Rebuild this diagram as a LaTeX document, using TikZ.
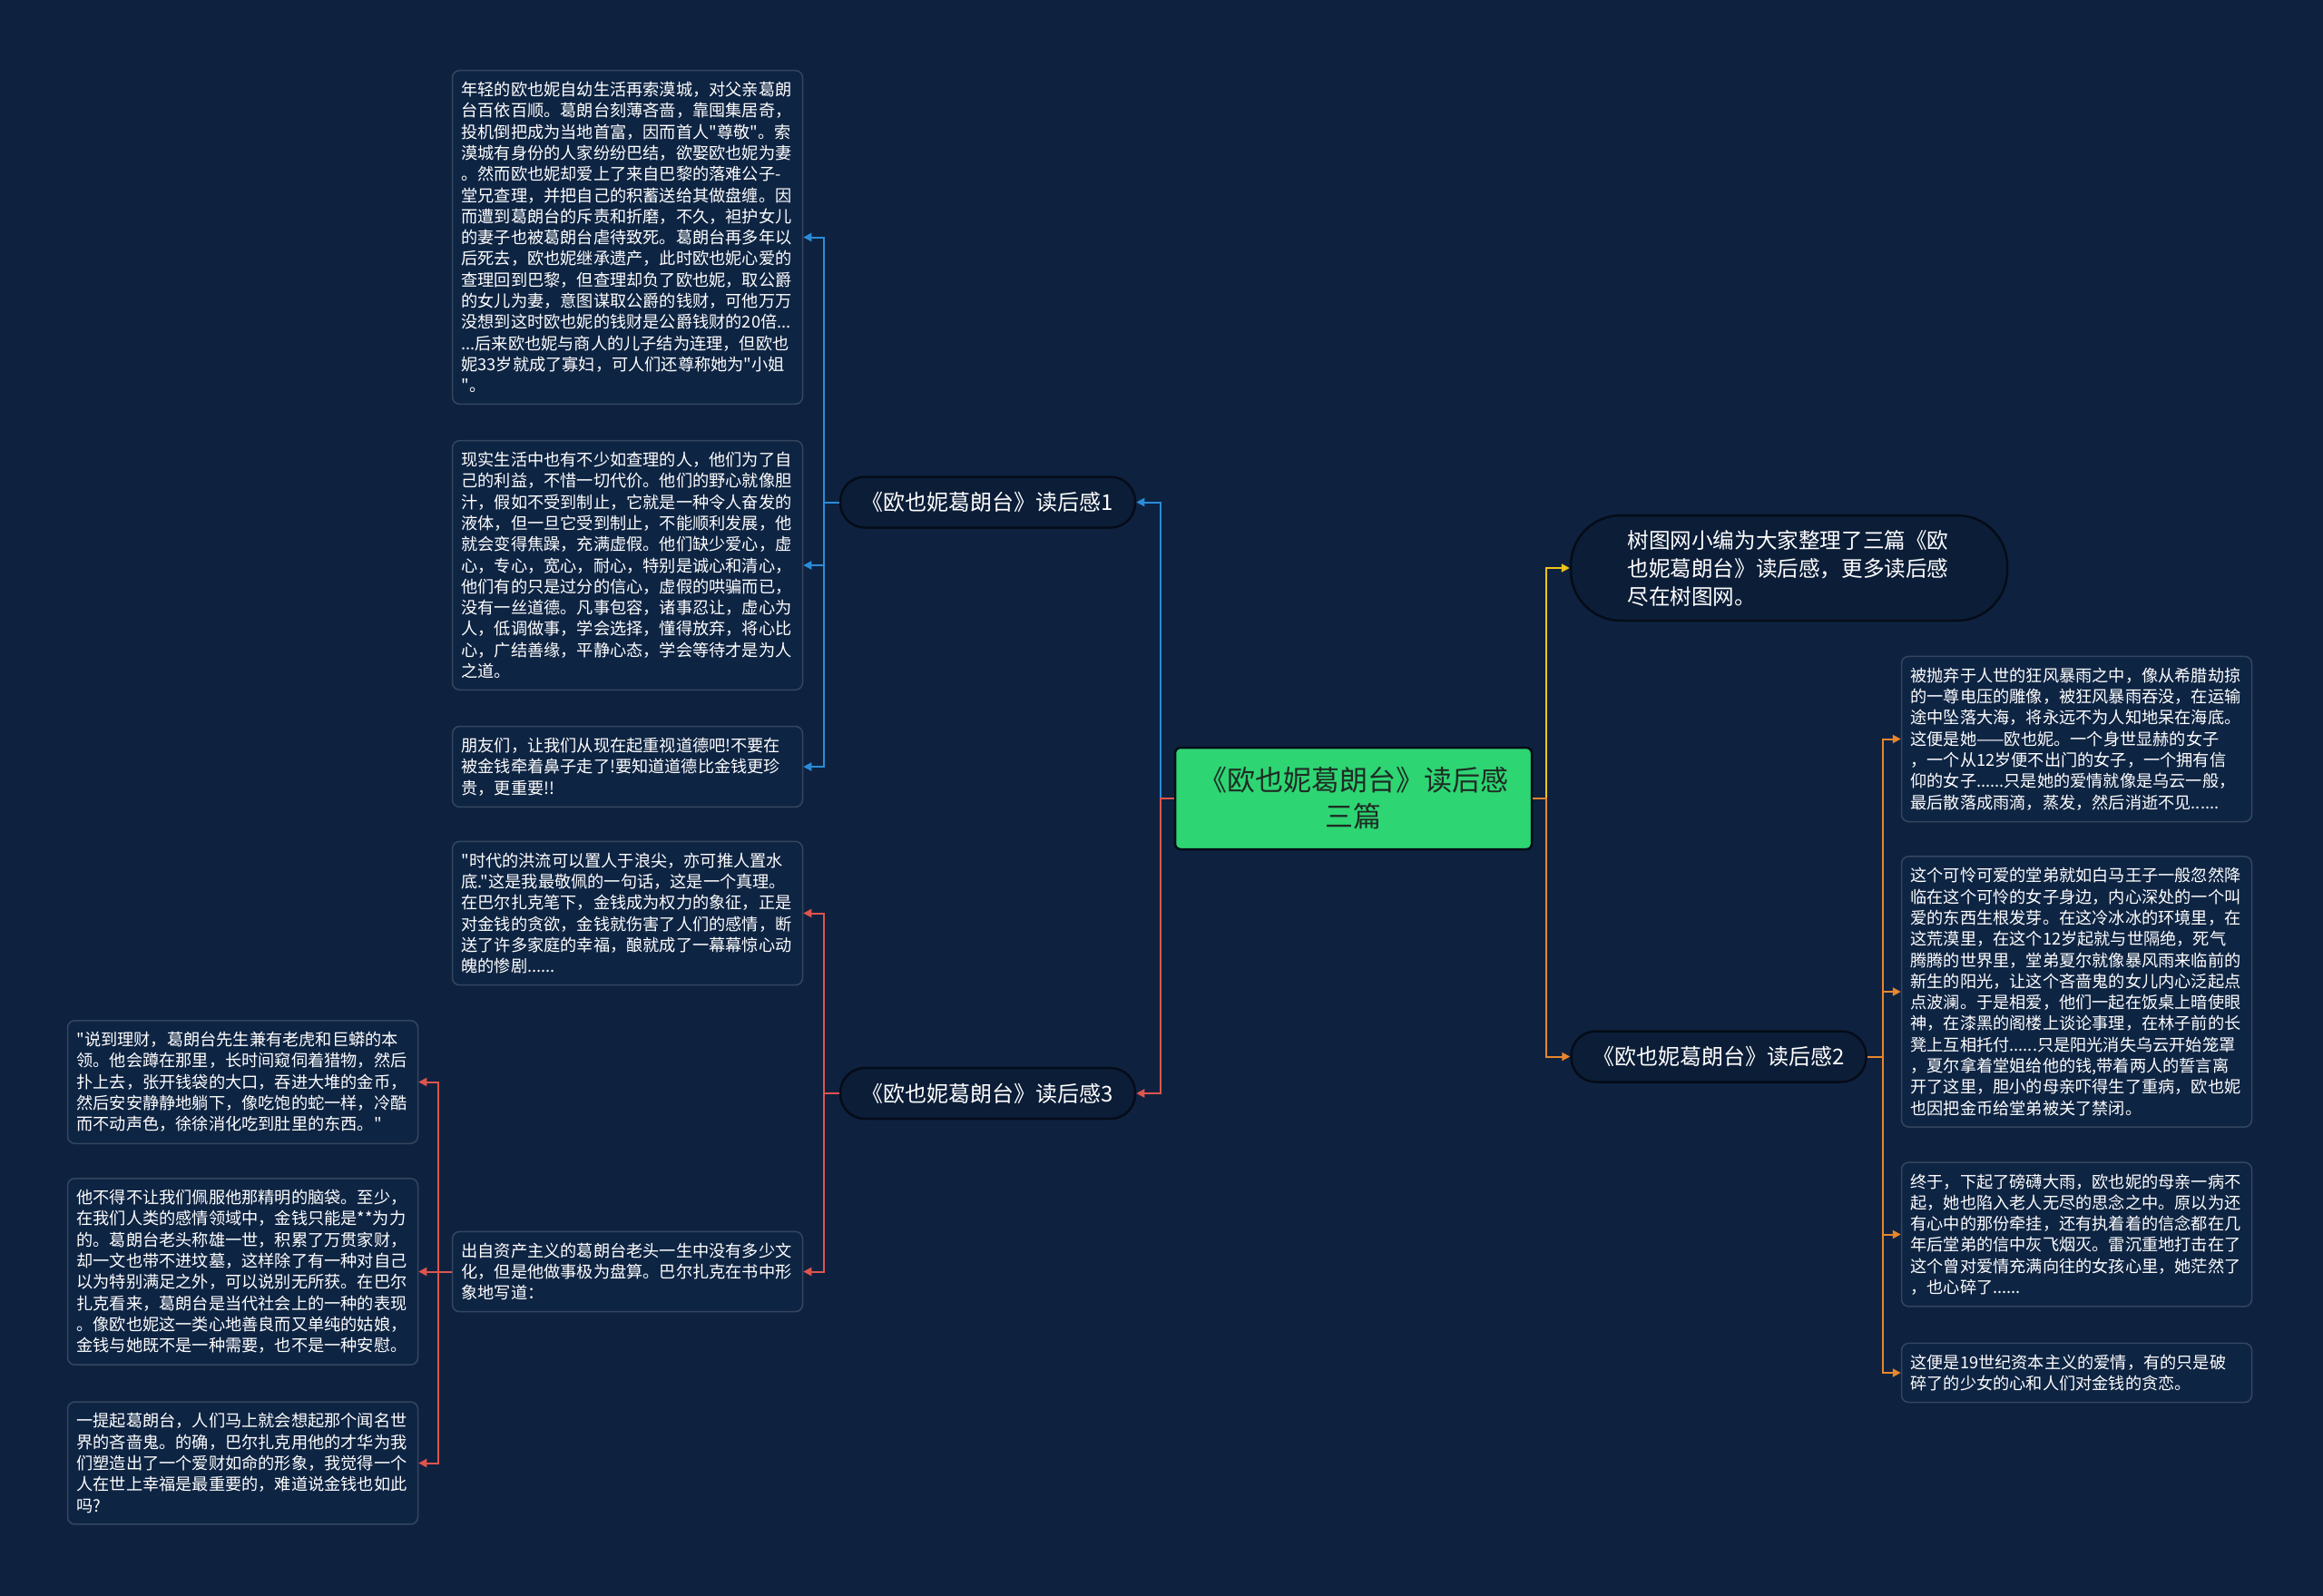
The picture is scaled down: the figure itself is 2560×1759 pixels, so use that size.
\documentclass[tikz,border=0pt]{standalone}
\usepackage{fontspec}
\newfontfamily\cjkfont{Noto Sans CJK SC}
\usetikzlibrary{arrows.meta}
\definecolor{bgc}{HTML}{0E2240}
\definecolor{leaffill}{HTML}{0E2443}
\definecolor{leafdraw}{HTML}{34465F}
\definecolor{pillfill}{HTML}{0B1D37}
\definecolor{pilldraw}{HTML}{050C18}
\definecolor{centerfill}{HTML}{2ED573}
\definecolor{centertext}{HTML}{1E2B24}
\definecolor{cblue}{HTML}{2A8CD8}
\definecolor{cred}{HTML}{E0544C}
\definecolor{cyellow}{HTML}{F0C419}
\definecolor{corange}{HTML}{E8862E}
\begin{document}
\begin{tikzpicture}[x=1pt,y=-1pt,
  leaf/.style={draw=leafdraw,fill=leaffill,line width=1.5pt,rounded corners=8pt,
    text=white,align=left,text width=366pt,inner xsep=10pt,inner ysep=12.5pt,
    font=\cjkfont\fontsize{18.2pt}{23.3pt}\selectfont},
  pill/.style={draw=pilldraw,fill=pillfill,line width=2.5pt,rounded corners=27pt,
    text=white,minimum width=325pt,minimum height=56pt,inner sep=0pt,
    font=\cjkfont\fontsize{24pt}{30pt}\selectfont},
  conn/.style={line width=2pt,-{Triangle[length=9pt,width=9pt]}},
  cb/.style={conn,draw=cblue,cblue},
  cr/.style={conn,draw=cred,cred},
  cy/.style={conn,draw=cyellow,cyellow},
  co/.style={conn,draw=corange,corange}]
\fill[bgc] (0,0) rectangle (2560,1759);
\useasboundingbox (0,0) rectangle (2560,1759);

% center
\node[draw=pilldraw,fill=centerfill,line width=2.5pt,rounded corners=6pt,
  minimum width=393pt,minimum height=112pt,align=center,text=centertext,
  font=\cjkfont\fontsize{31pt}{40pt}\selectfont] (c) at (1491.5,880)
  {《欧也妮葛朗台》读后感\\三篇};

% branches
\node[pill] (b1) at (1088.5,553.5) {《欧也妮葛朗台》读后感1};
\node[pill] (b3) at (1088.5,1205) {《欧也妮葛朗台》读后感3};
\node[pill] (b2) at (1894,1164.5) {《欧也妮葛朗台》读后感2};
\node[draw=pilldraw,fill=pillfill,line width=2.5pt,rounded corners=55pt,
  text=white,minimum width=481pt,minimum height=116pt,align=left,text width=356pt,
  inner xsep=62.5pt,font=\cjkfont\fontsize{23.6pt}{31pt}\selectfont] (intro) at (1971.5,626)
  {树图网小编为大家整理了三篇《欧\\也妮葛朗台》读后感，更多读后感\\尽在树图网。};

% left leaves of branch 1
\node[leaf] (L1) at (691.5,261.5) {年轻的欧也妮自幼生活再索漠城，对父亲葛朗\\
台百依百顺。葛朗台刻薄吝啬，靠囤集居奇，\\
投机倒把成为当地首富，因而首人"尊敬"。索\\
漠城有身份的人家纷纷巴结，欲娶欧也妮为妻\\
。然而欧也妮却爱上了来自巴黎的落难公子-\\
堂兄查理，并把自己的积蓄送给其做盘缠。因\\
而遭到葛朗台的斥责和折磨，不久，袒护女儿\\
的妻子也被葛朗台虐待致死。葛朗台再多年以\\
后死去，欧也妮继承遗产，此时欧也妮心爱的\\
查理回到巴黎，但查理却负了欧也妮，取公爵\\
的女儿为妻，意图谋取公爵的钱财，可他万万\\
没想到这时欧也妮的钱财是公爵钱财的20倍...\\
...后来欧也妮与商人的儿子结为连理，但欧也\\
妮33岁就成了寡妇，可人们还尊称她为"小姐\\
"。};
\node[leaf] (L2) at (691.5,623) {现实生活中也有不少如查理的人，他们为了自\\
己的利益，不惜一切代价。他们的野心就像胆\\
汁，假如不受到制止，它就是一种令人奋发的\\
液体，但一旦它受到制止，不能顺利发展，他\\
就会变得焦躁，充满虚假。他们缺少爱心，虚\\
心，专心，宽心，耐心，特别是诚心和清心，\\
他们有的只是过分的信心，虚假的哄骗而已，\\
没有一丝道德。凡事包容，诸事忍让，虚心为\\
人，低调做事，学会选择，懂得放弃，将心比\\
心，广结善缘，平静心态，学会等待才是为人\\
之道。};
\node[leaf] (L3) at (691.5,845) {朋友们，让我们从现在起重视道德吧!不要在\\
被金钱牵着鼻子走了!要知道道德比金钱更珍\\
贵，更重要!!};

% leaves of branch 3
\node[leaf] (L4) at (691.5,1006.5) {"时代的洪流可以置人于浪尖，亦可推人置水\\
底."这是我最敬佩的一句话，这是一个真理。\\
在巴尔扎克笔下，金钱成为权力的象征，正是\\
对金钱的贪欲，金钱就伤害了人们的感情，断\\
送了许多家庭的幸福，酿就成了一幕幕惊心动\\
魄的惨剧......};
\node[leaf] (L5) at (691.5,1401.5) {出自资产主义的葛朗台老头一生中没有多少文\\
化，但是他做事极为盘算。巴尔扎克在书中形\\
象地写道：};

% far left
\node[leaf] (F1) at (267.5,1192.5) {"说到理财，葛朗台先生兼有老虎和巨蟒的本\\
领。他会蹲在那里，长时间窥伺着猎物，然后\\
扑上去，张开钱袋的大口，吞进大堆的金币，\\
然后安安静静地躺下，像吃饱的蛇一样，冷酷\\
而不动声色，徐徐消化吃到肚里的东西。"};
\node[leaf] (F2) at (267.5,1401.5) {他不得不让我们佩服他那精明的脑袋。至少，\\
在我们人类的感情领域中，金钱只能是**为力\\
的。葛朗台老头称雄一世，积累了万贯家财，\\
却一文也带不进坟墓，这样除了有一种对自己\\
以为特别满足之外，可以说别无所获。在巴尔\\
扎克看来，葛朗台是当代社会上的一种的表现\\
。像欧也妮这一类心地善良而又单纯的姑娘，\\
金钱与她既不是一种需要，也不是一种安慰。};
\node[leaf] (F3) at (267.5,1612.5) {一提起葛朗台，人们马上就会想起那个闻名世\\
界的吝啬鬼。的确，巴尔扎克用他的才华为我\\
们塑造出了一个爱财如命的形象，我觉得一个\\
人在世上幸福是最重要的，难道说金钱也如此\\
吗?};

% right leaves
\node[leaf] (R1) at (2288.5,814.5) {被抛弃于人世的狂风暴雨之中，像从希腊劫掠\\
的一尊电压的雕像，被狂风暴雨吞没，在运输\\
途中坠落大海，将永远不为人知地呆在海底。\\
这便是她——欧也妮。一个身世显赫的女子\\
，一个从12岁便不出门的女子，一个拥有信\\
仰的女子......只是她的爱情就像是乌云一般，\\
最后散落成雨滴，蒸发，然后消逝不见......};
\node[leaf] (R2) at (2288.5,1093) {这个可怜可爱的堂弟就如白马王子一般忽然降\\
临在这个可怜的女子身边，内心深处的一个叫\\
爱的东西生根发芽。在这冷冰冰的环境里，在\\
这荒漠里，在这个12岁起就与世隔绝，死气\\
腾腾的世界里，堂弟夏尔就像暴风雨来临前的\\
新生的阳光，让这个吝啬鬼的女儿内心泛起点\\
点波澜。于是相爱，他们一起在饭桌上暗使眼\\
神，在漆黑的阁楼上谈论事理，在林子前的长\\
凳上互相托付......只是阳光消失乌云开始笼罩\\
，夏尔拿着堂姐给他的钱,带着两人的誓言离\\
开了这里，胆小的母亲吓得生了重病，欧也妮\\
也因把金币给堂弟被关了禁闭。};
\node[leaf] (R3) at (2288.5,1360.5) {终于，下起了磅礴大雨，欧也妮的母亲一病不\\
起，她也陷入老人无尽的思念之中。原以为还\\
有心中的那份牵挂，还有执着着的信念都在几\\
年后堂弟的信中灰飞烟灭。雷沉重地打击在了\\
这个曾对爱情充满向往的女孩心里，她茫然了\\
，也心碎了......};
\node[leaf] (R4) at (2288.5,1513) {这便是19世纪资本主义的爱情，有的只是破\\
碎了的少女的心和人们对金钱的贪恋。};

% connectors from center
\draw[cb] (c.west) -- ++(-15,0) |- (b1.east);
\draw[cr] (c.west) -- ++(-15,0) |- (b3.east);
\draw[cy] (c.east) -- ++(15,0) |- (intro.west);
\draw[co] (c.east) -- ++(15,0) |- (b2.west);

% branch 1
\draw[cb] (b1.west) -- ++(-17,0) |- (L1.east);
\draw[cb] (b1.west) -- ++(-17,0) |- (L2.east);
\draw[cb] (b1.west) -- ++(-17,0) |- (L3.east);
% branch 3
\draw[cr] (b3.west) -- ++(-17,0) |- (L4.east);
\draw[cr] (b3.west) -- ++(-17,0) |- (L5.east);
\draw[cr] (L5.west) -- ++(-15,0) |- (F1.east);
\draw[cr] (L5.west) -- ++(-15,0) |- (F2.east);
\draw[cr] (L5.west) -- ++(-15,0) |- (F3.east);
% branch 2
\draw[co] (b2.east) -- ++(17,0) |- (R1.west);
\draw[co] (b2.east) -- ++(17,0) |- (R2.west);
\draw[co] (b2.east) -- ++(17,0) |- (R3.west);
\draw[co] (b2.east) -- ++(17,0) |- (R4.west);
\end{tikzpicture}
\end{document}
